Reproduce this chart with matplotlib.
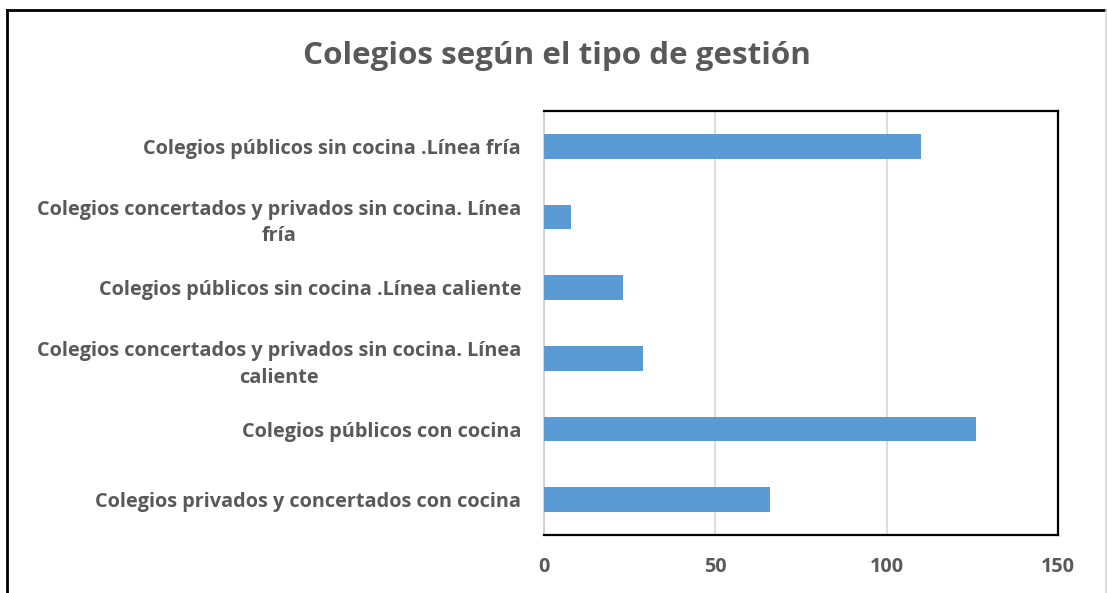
import matplotlib
matplotlib.use("Agg")
import matplotlib.pyplot as plt
from matplotlib.lines import Line2D

# categories, bottom to top as drawn
categories = [
    "Colegios privados y concertados con cocina",
    "Colegios públicos con cocina",
    "Colegios concertados y privados sin cocina. Línea\ncaliente",
    "Colegios públicos sin cocina .Línea caliente",
    "Colegios concertados y privados sin cocina. Línea\nfría",
    "Colegios públicos sin cocina .Línea fría",
]
values = [66, 126, 29, 23, 8, 110]
xticks = [0, 50, 100, 150]

TEXT_COLOR = "#595959"
BAR_COLOR = "#5b9bd5"

plt.rcParams['font.family'] = ['Open Sans', 'DejaVu Sans']

fig = plt.figure(figsize=(11.07, 5.93), dpi=100)
ax = fig.add_axes([544/1107, 1 - 535/593, (1058-544)/1107, (535-111)/593])

ypos = range(len(categories))
ax.barh(ypos, values, height=0.35, color=BAR_COLOR, zorder=3)

ax.set_xlim(0, 150)
ax.set_ylim(-0.5, 5.5)
ax.set_xticks(xticks)
ax.set_xticklabels([str(t) for t in xticks])
ax.set_yticks(list(ypos))
ax.set_yticklabels(categories, multialignment='center', linespacing=1.45)

ax.tick_params(axis='both', length=0, colors=TEXT_COLOR, labelsize=14.3)
ax.tick_params(axis='x', pad=16)
ax.tick_params(axis='y', pad=16.5)
for lab in ax.get_xticklabels() + ax.get_yticklabels():
    lab.set_fontweight('bold')

ax.xaxis.grid(True, color="#d9d9d9", lw=1.3, zorder=0)
ax.set_axisbelow(True)

for side in ['top', 'right', 'bottom']:
    ax.spines[side].set_color('black')
    ax.spines[side].set_linewidth(1.6)
ax.spines['left'].set_color('#d0d0d0')
ax.spines['left'].set_linewidth(1.3)

fig.text(557/1107, 1 - 56/593, "Colegios según el tipo de gestión",
         ha='center', va='center', fontsize=22.6, fontweight='bold', color=TEXT_COLOR)

# outer frame of the chart area
fig.add_artist(Line2D([7/1107, 1106/1107], [1 - 10/593, 1 - 10/593],
                      transform=fig.transFigure, color='black', lw=2))
fig.add_artist(Line2D([7/1107, 7/1107], [0, 1 - 10/593],
                      transform=fig.transFigure, color='black', lw=2))
fig.add_artist(Line2D([1106/1107, 1106/1107], [0, 1 - 10/593],
                      transform=fig.transFigure, color='#d9d9d9', lw=1.2))

fig.savefig("out.png", dpi=100)
